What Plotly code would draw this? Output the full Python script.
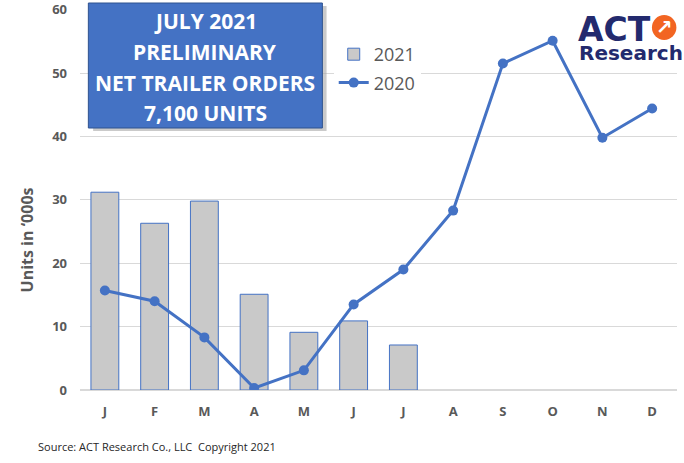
import plotly.graph_objects as go

months = ["J", "F", "M", "A", "M", "J", "J", "A", "S", "O", "N", "D"]
month_ids = [f"m{i}" for i in range(12)]
orders_2021 = [31.2, 26.3, 29.8, 15.1, 9.1, 10.9, 7.1]
orders_2020 = [15.7, 14.0, 8.3, 0.3, 3.1, 13.5, 19.0, 28.3, 51.5, 55.1, 39.8, 44.4]

box_lines = ["JULY 2021", "PRELIMINARY", "NET TRAILER ORDERS", "7,100 UNITS"]

BLUE = "#4472C4"
GREY_TXT = "#595959"
NAVY = "#232A6E"
FONT = "Open Sans"

PLOT_TOP, PLOT_BOTTOM = 9, 390


def py(pixel_y):
    # pixel row -> paper y
    return (PLOT_BOTTOM - pixel_y) / (PLOT_BOTTOM - PLOT_TOP)


fig = go.Figure()

fig.add_trace(go.Bar(
    x=month_ids[:len(orders_2021)],
    y=orders_2021,
    name="2021",
    legendgroup="a",
    marker=dict(color="#C9C9C9", line=dict(color=BLUE, width=1)),
))

fig.add_trace(go.Scatter(
    x=month_ids,
    y=orders_2020,
    name="2020",
    legendgroup="b",
    mode="lines+markers",
    line=dict(color=BLUE, width=3),
    marker=dict(color=BLUE, size=10),
))

fig.update_layout(
    width=684,
    height=463,
    margin=dict(l=80, r=7, t=PLOT_TOP, b=463 - PLOT_BOTTOM, autoexpand=False),
    paper_bgcolor="white",
    plot_bgcolor="white",
    font=dict(family=FONT, color=GREY_TXT),
    bargap=0.44,
    showlegend=True,
    legend=dict(
        x=0.425, y=py(36), xanchor="left", yanchor="top",
        font=dict(size=18, color=GREY_TXT),
        bgcolor="white",
        traceorder="grouped",
        tracegroupgap=2,
    ),
    xaxis=dict(
        type="category",
        tickmode="array",
        tickvals=month_ids,
        ticktext=months,
        range=[-0.5, 11.5],
        tickfont=dict(size=13, color=GREY_TXT, family=FONT, weight="bold"),
        showgrid=False,
        showline=False,
        ticks="",
        ticklabelstandoff=12,
        automargin=False,
    ),
    yaxis=dict(
        range=[0, 60.1],
        tickvals=[0, 10, 20, 30, 40, 50, 60],
        tickfont=dict(size=13, color=GREY_TXT, family=FONT, weight="bold"),
        ticklabeloverflow="allow",
        gridcolor="#D9D9D9",
        gridwidth=1,
        zeroline=True,
        zerolinecolor="#D9D9D9",
        zerolinewidth=2,
        ticklabelstandoff=12,
        automargin=False,
    ),
)

# y-axis title
fig.add_annotation(
    text="Units in ‘000s", textangle=-90,
    xref="paper", yref="paper", x=-0.088, y=py(240),
    xanchor="center", yanchor="middle",
    showarrow=False, font=dict(size=16, color=GREY_TXT, family=FONT, weight="bold"),
)

# headline box with shadow
fig.add_shape(type="rect", xref="paper", yref="paper",
              x0=0.022, x1=0.413, y0=py(131), y1=py(6), fillcolor="#A6A6A6",
              line=dict(width=0), opacity=0.6, layer="above")
fig.add_shape(type="rect", xref="paper", yref="paper",
              x0=0.014, x1=0.406, y0=py(128), y1=py(3), fillcolor=BLUE,
              line=dict(color="#2F528F", width=1), layer="above")
for line_text, line_y in zip(box_lines, [20.5, 52, 83, 113]):
    fig.add_annotation(
        text=line_text,
        xref="paper", yref="paper", x=0.21, y=py(line_y),
        xanchor="center", yanchor="middle",
        showarrow=False,
        font=dict(size=21, color="white", family=FONT, weight="bold"),
    )

# ACT Research logo
fig.add_annotation(
    text="ACT", xref="paper", yref="paper", x=(576 - 80) / 597, y=py(29),
    xanchor="left", yanchor="middle", showarrow=False,
    font=dict(size=33, color=NAVY, family="DejaVu Sans", weight="bold"),
)
fig.add_shape(type="circle", xref="paper", yref="paper",
              x0=0.958, x1=0.999, y0=py(40), y1=py(15),
              fillcolor="#F26522", line=dict(width=0), layer="above")
fig.add_annotation(
    text="↗", xref="paper", yref="paper", x=0.9785, y=py(27.5),
    xanchor="center", yanchor="middle", showarrow=False,
    font=dict(size=20, color="white", family="DejaVu Sans", weight="bold"),
)
fig.add_annotation(
    text="Research", xref="paper", yref="paper", x=(577 - 80) / 597, y=py(52.5),
    xanchor="left", yanchor="middle", showarrow=False,
    font=dict(size=20, color=NAVY, family="DejaVu Sans", weight="bold"),
)

# source note
fig.add_annotation(
    text="Source: ACT Research Co., LLC  Copyright 2021",
    xref="paper", yref="paper", x=-0.074, y=-0.148,
    xanchor="left", yanchor="middle", showarrow=False,
    font=dict(size=11, color="#262626", family=FONT),
)

fig.write_html("out.html", config={"displayModeBar": False},
               post_script="document.body.style.margin='0';")
